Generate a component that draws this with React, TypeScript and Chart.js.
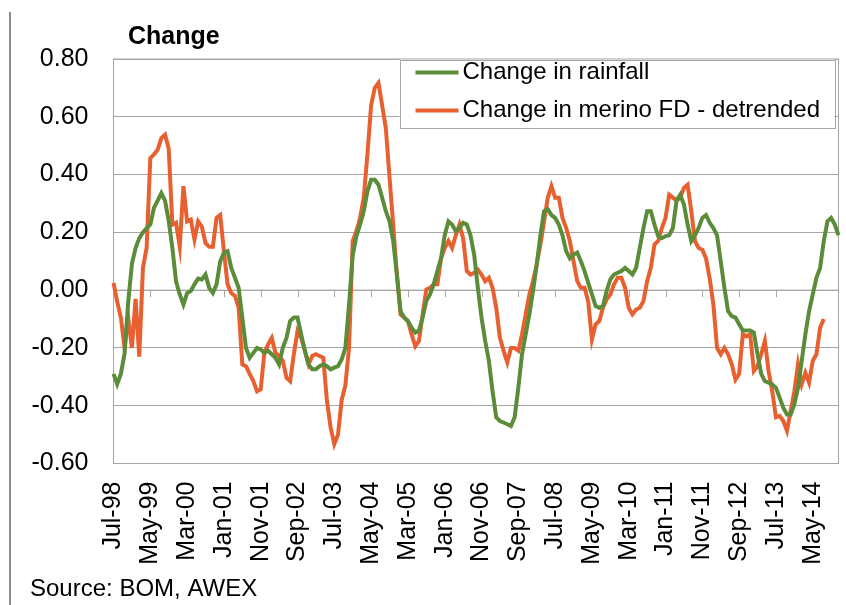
import { useEffect, useRef } from 'react';
import { Chart, registerables } from 'chart.js';

Chart.register(...registerables);

const FONT = "'Liberation Sans', Arial, Helvetica, sans-serif";

const MONTH_NAMES = ['Jan', 'Feb', 'Mar', 'Apr', 'May', 'Jun', 'Jul', 'Aug', 'Sep', 'Oct', 'Nov', 'Dec'];
const START_MONTH = 6; // Jul
const START_YEAR = 1998;
const TICK_EVERY = 10;

const TITLE = 'Change';
const SOURCE = 'Source: BOM, AWEX';
const SERIES_NAMES = ['Change in rainfall', 'Change in merino FD - detrended'];
const SERIES_COLORS = ['#5B8C3A', '#E8602F'];

const Y_MIN = -0.6;
const Y_MAX = 0.8;
const Y_STEP = 0.2;

const rainfall = [
  -0.29, -0.325, -0.29, -0.22, -0.04, 0.09, 0.146, 0.18, 0.2, 0.215,
  0.227, 0.285, 0.31, 0.336, 0.31, 0.24, 0.146, 0.03, -0.015, -0.05,
  -0.01, -0.003, 0.02, 0.04, 0.037, 0.054, 0.008, -0.01, 0.02, 0.1,
  0.13, 0.135, 0.077, 0.043, 0.008, -0.095, -0.2, -0.234, -0.217, -0.2,
  -0.205, -0.217, -0.21, -0.222, -0.234, -0.257, -0.2, -0.165, -0.107, -0.095,
  -0.095, -0.153, -0.21, -0.257, -0.274, -0.274, -0.263, -0.257, -0.263, -0.274,
  -0.268, -0.263, -0.24, -0.2, -0.05, 0.12, 0.187, 0.227, 0.273, 0.342,
  0.382, 0.382, 0.365, 0.32, 0.273, 0.238, 0.17, 0.054, -0.073, -0.095,
  -0.107, -0.13, -0.147, -0.14, -0.095, -0.038, -0.015, 0.02, 0.066, 0.11,
  0.19, 0.238, 0.227, 0.204, 0.215, 0.233, 0.227, 0.19, 0.123, 0.008,
  -0.095, -0.176, -0.245, -0.35, -0.44, -0.453, -0.458, -0.464, -0.47, -0.44,
  -0.338, -0.222, -0.153, -0.084, -0.003, 0.089, 0.19, 0.273, 0.28, 0.26,
  0.25, 0.227, 0.19, 0.135, 0.11, 0.123, 0.13, 0.1, 0.066, 0.025,
  -0.015, -0.055, -0.061, -0.055, -0.003, 0.037, 0.054, 0.06, 0.066, 0.077,
  0.066, 0.054, 0.077, 0.146, 0.215, 0.273, 0.273, 0.227, 0.187, 0.18,
  0.187, 0.19, 0.215, 0.31, 0.33, 0.296, 0.227, 0.17, 0.19, 0.215,
  0.25, 0.26, 0.233, 0.215, 0.19, 0.1, 0.008, -0.073, -0.09, -0.095,
  -0.118, -0.14, -0.14, -0.14, -0.147, -0.222, -0.29, -0.315, -0.32, -0.326,
  -0.338, -0.372, -0.407, -0.43, -0.43, -0.395, -0.338, -0.245, -0.153, -0.073,
  -0.015, 0.043, 0.077, 0.17, 0.238, 0.25, 0.227, 0.19,
];

const merinoFD = [
  0.025, -0.04, -0.095, -0.2, -0.095, -0.2, -0.03, -0.23, 0.077, 0.146,
  0.457, 0.47, 0.486, 0.526, 0.538, 0.49, 0.227, 0.233, 0.15, 0.36,
  0.238, 0.244, 0.175, 0.238, 0.22, 0.163, 0.15, 0.15, 0.25, 0.26,
  0.135, 0.02, -0.01, -0.02, -0.06, -0.257, -0.263, -0.29, -0.315, -0.35,
  -0.343, -0.217, -0.188, -0.165, -0.217, -0.228, -0.245, -0.303, -0.315, -0.222,
  -0.142, -0.165, -0.21, -0.257, -0.228, -0.222, -0.228, -0.234, -0.384, -0.476,
  -0.533, -0.5, -0.38, -0.33, -0.2, 0.17, 0.204, 0.25, 0.32, 0.47,
  0.64, 0.7, 0.717, 0.64, 0.56, 0.39, 0.227, 0.054, -0.084, -0.095,
  -0.107, -0.153, -0.194, -0.176, -0.084, 0.002, 0.008, 0.02, 0.02, 0.11,
  0.146, 0.17, 0.146, 0.19, 0.227, 0.18, 0.066, 0.054, 0.06, 0.071,
  0.054, 0.031, 0.043, 0.008, -0.061, -0.165, -0.21, -0.25, -0.2, -0.2,
  -0.21, -0.153, -0.084, -0.015, 0.031, 0.089, 0.158, 0.238, 0.32, 0.36,
  0.32, 0.32, 0.25, 0.215, 0.17, 0.1, 0.031, 0.008, 0.008, -0.04,
  -0.17, -0.118, -0.107, -0.061, -0.032, -0.015, 0.02, 0.043, 0.043, 0.008,
  -0.061, -0.084, -0.067, -0.061, -0.038, 0.031, 0.077, 0.158, 0.17, 0.215,
  0.25, 0.33, 0.32, 0.31, 0.32, 0.354, 0.365, 0.273, 0.17, 0.146,
  0.14, 0.11, 0.04, -0.05, -0.2, -0.222, -0.2, -0.222, -0.257, -0.31,
  -0.29, -0.153, -0.16, -0.153, -0.28, -0.263, -0.222, -0.176, -0.28, -0.35,
  -0.44, -0.435, -0.453, -0.487, -0.418, -0.35, -0.257, -0.326, -0.286, -0.32,
  -0.245, -0.222, -0.13, -0.1,
];

const categories = rainfall.map((_, i) => {
  const m = START_MONTH + i;
  const yr = START_YEAR + Math.floor(m / 12);
  return `${MONTH_NAMES[m % 12]}-${String(yr % 100).padStart(2, '0')}`;
});

const GRID = '#A6A6A6';

const decorPlugin = {
  id: 'decor',
  beforeDraw(chart: any) {
    const ctx = chart.ctx;
    ctx.save();
    ctx.fillStyle = '#fff';
    ctx.fillRect(0, 0, chart.width, chart.height);
    ctx.strokeStyle = '#8C8C8C';
    ctx.lineWidth = 2;
    ctx.beginPath();
    ctx.moveTo(10, 12);
    ctx.lineTo(10, chart.height);
    ctx.stroke();
    ctx.restore();
  },
  beforeDatasetsDraw(chart: any) {
    const ctx = chart.ctx;
    const { left, right, top, bottom } = chart.chartArea;
    const xs = chart.scales.x;
    const ys = chart.scales.y;
    ctx.save();
    ctx.strokeStyle = GRID;
    ctx.lineWidth = 1;
    ctx.strokeRect(left, top, right - left, bottom - top);
    const y0 = ys.getPixelForValue(0);
    ctx.beginPath();
    ctx.moveTo(left, y0);
    ctx.lineTo(right, y0);
    for (let i = TICK_EVERY; i < categories.length; i += TICK_EVERY) {
      const x = Math.round(xs.getPixelForValue(i)) + 0.5;
      ctx.moveTo(x, y0);
      ctx.lineTo(x, y0 + 7);
    }
    ctx.stroke();
    ctx.restore();
  },
  afterDatasetsDraw(chart: any) {
    const ctx = chart.ctx;
    const { right, top } = chart.chartArea;
    const bx = right - 439;
    const by = top + 0.5;
    const bw = 435;
    const bh = 68;
    ctx.save();
    ctx.fillStyle = '#fff';
    ctx.fillRect(bx, by, bw, bh);
    ctx.strokeStyle = GRID;
    ctx.lineWidth = 1;
    ctx.strokeRect(Math.round(bx) + 0.5, Math.round(by) + 0.5, bw, bh);
    ctx.font = `24px ${FONT}`;
    ctx.textBaseline = 'middle';
    ctx.textAlign = 'left';
    chart.data.datasets.forEach((ds: any, k: number) => {
      const ry = by + 13 + k * 38;
      ctx.strokeStyle = ds.borderColor;
      ctx.lineWidth = 4;
      ctx.beginPath();
      ctx.moveTo(bx + 16, ry);
      ctx.lineTo(bx + 59, ry);
      ctx.stroke();
      ctx.fillStyle = '#000';
      ctx.fillText(ds.label, bx + 63, ry);
    });
    ctx.restore();
  },
  afterDraw(chart: any) {
    const ctx = chart.ctx;
    ctx.save();
    ctx.fillStyle = '#000';
    ctx.textAlign = 'left';
    ctx.textBaseline = 'alphabetic';
    ctx.font = `bold 25px ${FONT}`;
    ctx.fillText(TITLE, 128, 44);
    ctx.font = `24px ${FONT}`;
    ctx.fillText(SOURCE, 30, 596);
    ctx.restore();
  },
};

export default function App() {
  const ref = useRef<HTMLCanvasElement | null>(null);

  useEffect(() => {
    if (!ref.current) return;
    const chart = new Chart(ref.current, {
      type: 'line',
      data: {
        labels: categories,
        datasets: [
          {
            label: SERIES_NAMES[0],
            data: rainfall,
            borderColor: SERIES_COLORS[0],
            backgroundColor: SERIES_COLORS[0],
            borderWidth: 4,
            pointRadius: 0,
            tension: 0,
            fill: false,
          },
          {
            label: SERIES_NAMES[1],
            data: merinoFD,
            borderColor: SERIES_COLORS[1],
            backgroundColor: SERIES_COLORS[1],
            borderWidth: 4,
            pointRadius: 0,
            tension: 0,
            fill: false,
          },
        ],
      },
      options: {
        responsive: false,
        animation: false,
        devicePixelRatio: 1,
        layout: { padding: { top: 59, right: 7.5, left: 0, bottom: 0 } },
        plugins: {
          legend: { display: false },
          title: { display: false },
          tooltip: { enabled: false },
        },
        scales: {
          x: {
            type: 'category',
            offset: false,
            grid: { display: false, drawTicks: false },
            border: { display: false },
            ticks: {
              autoSkip: false,
              maxRotation: 90,
              minRotation: 90,
              padding: 18,
              color: '#000',
              font: { family: FONT, size: 25 },
              callback: (_v: any, i: number) => (i % TICK_EVERY === 0 ? categories[i] : null),
            },
            afterFit: (s: any) => {
              s.height = 605 - 463.5;
              s.paddingLeft = 0;
              s.paddingRight = 0;
            },
          },
          y: {
            min: Y_MIN,
            max: Y_MAX,
            grid: { color: GRID, lineWidth: 1, drawTicks: false },
            border: { display: true, color: GRID },
            ticks: {
              stepSize: Y_STEP,
              padding: 25,
              color: '#000',
              font: { family: FONT, size: 25 },
              callback: (v: any) => Number(v).toFixed(2),
            },
            afterFit: (s: any) => {
              s.width = 113.5;
            },
          },
        },
      },
      plugins: [decorPlugin],
    });
    return () => chart.destroy();
  }, []);

  return (
    <div style={{ position: 'fixed', left: 0, top: 0, width: 846, height: 605, background: '#fff' }}>
      <canvas ref={ref} width={846} height={605} style={{ display: 'block' }} />
    </div>
  );
}
